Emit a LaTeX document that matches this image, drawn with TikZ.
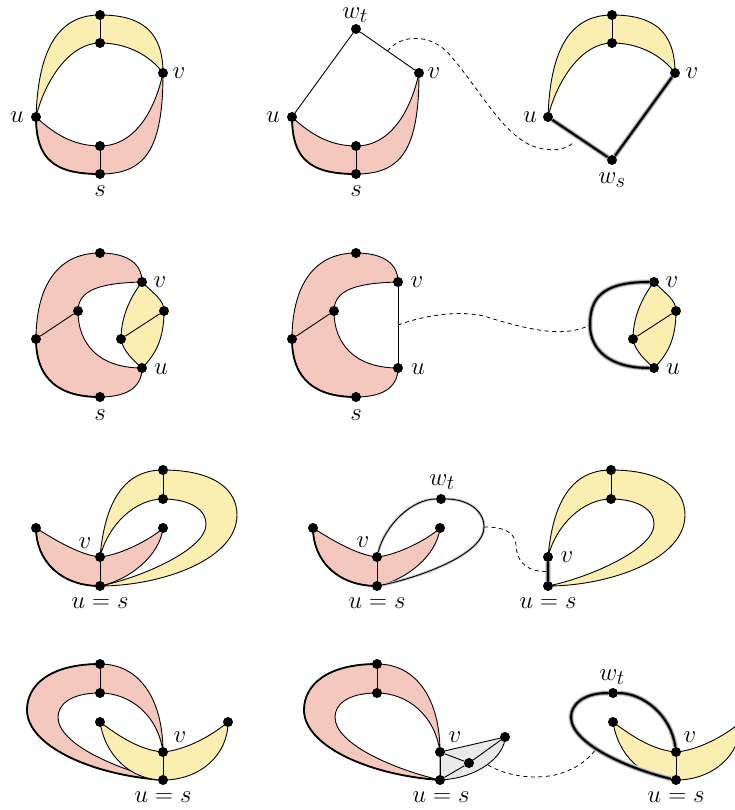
\documentclass[tikz,border=0pt]{standalone}
\usetikzlibrary{calc}
\definecolor{cRed}{RGB}{245,200,190}
\definecolor{cYel}{RGB}{250,238,176}
\definecolor{cGry}{RGB}{233,233,233}

% ----- shapes that come back in several panels (local coordinates) ------
\newcommand{\redcup}{%
  \filldraw[redfill] (36,117) .. controls (36,160) and (55,174) .. (100,174)
     .. controls (145,174) and (163,150) .. (163,73)
     .. controls (155,110) and (135,146) .. (100,146)
     .. controls (70,146) and (50,130) .. cycle;
  \draw[bold] (36,117) .. controls (36,160) and (55,174) .. (100,174);}
\newcommand{\yelcap}{%
  \filldraw[yelfill] (36,117) .. controls (38,55) and (55,15) .. (100,15)
     .. controls (140,15) and (163,30) .. (163,73)
     .. controls (152,58) and (130,43) .. (100,43)
     .. controls (70,43) and (45,80) .. cycle;}
\newcommand{\redC}{%
  \filldraw[redfill] (142,282) .. controls (142,262) and (125,253) .. (100,253)
     .. controls (55,253) and (36,290) .. (36,339)
     .. controls (36,380) and (60,397) .. (100,397)
     .. controls (130,397) and (142,385) .. (142,368)
     .. controls (100,368) and (78,345) .. (78,311)
     .. controls (78,290) and (100,283) .. cycle;
  \draw[bold] (36,339) .. controls (36,380) and (60,397) .. (100,397);}
\newcommand{\yellens}{%
  \filldraw[yelfill] (142,282) .. controls (155,295) and (164,300) .. (164,311)
     .. controls (164,340) and (155,355) .. (142,368)
     .. controls (135,362) and (122,350) .. (121,339)
     .. controls (121,320) and (128,300) .. cycle;}
\newcommand{\redV}{%
  \filldraw[redfill] (36,528) .. controls (55,540) and (80,555) .. (100,557)
     .. controls (120,555) and (150,540) .. (163,528)
     .. controls (160,555) and (130,580) .. (100,586)
     .. controls (60,586) and (36,560) .. cycle;
  \draw[bold] (36,528) .. controls (36,560) and (60,586) .. (100,586);}
\newcommand{\yelloop}{%
  \filldraw[yelfill] (100,557) .. controls (105,500) and (125,470) .. (163,470)
     .. controls (215,470) and (237,490) .. (237,515)
     .. controls (237,560) and (160,586) .. (100,586)
     .. controls (140,578) and (205,550) .. (206,525)
     .. controls (207,510) and (190,499) .. (163,499)
     .. controls (135,499) and (108,525) .. cycle;}
\newcommand{\redloop}{%
  \filldraw[redfill] (163,752) .. controls (163,700) and (140,664) .. (100,664)
     .. controls (50,664) and (27,685) .. (27,710)
     .. controls (27,745) and (90,775) .. (163,780)
     .. controls (120,770) and (58,745) .. (58,717)
     .. controls (58,705) and (70,693) .. (100,693)
     .. controls (130,693) and (158,715) .. cycle;
  \draw[bold] (100,664) .. controls (50,664) and (27,685) .. (27,710)
     .. controls (27,745) and (90,775) .. (163,780);}
\newcommand{\yelV}{%
  \filldraw[yelfill] (100,722) .. controls (120,737) and (140,750) .. (163,752)
     .. controls (185,750) and (210,737) .. (228,722)
     .. controls (228,755) and (200,780) .. (163,780)
     .. controls (130,780) and (105,755) .. cycle;}

\begin{document}
\begin{tikzpicture}[
  x=1pt, y=-1pt, font=\fontsize{24.88}{30}\selectfont,
  dot/.style     ={circle, fill=black, inner sep=0pt, minimum size=10pt},
  lbl/.style     ={inner sep=0pt},
  edge/.style    ={line width=0.9pt},
  bold/.style    ={line width=1.8pt},
  redfill/.style ={fill=cRed, draw=black, line width=0.9pt},
  yelfill/.style ={fill=cYel, draw=black, line width=0.9pt},
  gryfill/.style ={fill=cGry, draw=black, line width=0.9pt},
  halo/.style    ={line width=2pt, preaction={draw=black!15, line width=5.5pt},
                   preaction={draw=black!45, line width=3.6pt}},
  halothin/.style={line width=0.9pt, preaction={draw=black!22, line width=2.8pt}},
  link/.style    ={line width=0.8pt, dash pattern=on 4pt off 3.5pt},
]
\clip (0,0) rectangle (735,810);

% ======================= row 1 ==========================================
\begin{scope}
  \redcup \yelcap
  \node[dot] (p1t)  at (100,15)  {};
  \node[dot] (p1it) at (100,43)  {};
  \node[dot] (p1v)  at (163,73)  {};
  \node[dot] (p1u)  at (36,117)  {};
  \node[dot] (p1ib) at (100,146) {};
  \node[dot] (p1s)  at (100,174) {};
  \draw[edge] (p1t) -- (p1it);
  \draw[edge] (p1ib) -- (p1s);
  \node[lbl] (p1uL) at (17,117)  {$u$};
  \node[lbl] (p1vL) at (179,73)  {$v$};
  \node[lbl] (p1sL) at (100,191) {$s$};
\end{scope}

\begin{scope}[shift={(256,0)}]
  \redcup
  \node[dot] (p2w)  at (100,29)  {};
  \node[dot] (p2v)  at (163,73)  {};
  \node[dot] (p2u)  at (36,117)  {};
  \node[dot] (p2ib) at (100,146) {};
  \node[dot] (p2s)  at (100,174) {};
  \draw[edge] (p2u) -- (p2w) -- (p2v);
  \draw[edge] (p2ib) -- (p2s);
  \coordinate (p2m) at ($(p2w)!0.5!(p2v)$);
  \node[lbl] (p2wL) at (99,15.5) {$w_t$};
  \node[lbl] (p2uL) at (17,117)  {$u$};
  \node[lbl] (p2vL) at (178,73)  {$v$};
  \node[lbl] (p2sL) at (100,191) {$s$};
\end{scope}

\begin{scope}[shift={(512,0)}]
  \yelcap
  \node[dot] (p3t)  at (100,15)  {};
  \node[dot] (p3it) at (100,43)  {};
  \node[dot] (p3v)  at (163,73)  {};
  \node[dot] (p3u)  at (36,117)  {};
  \node[dot] (p3ws) at (100,160) {};
  \draw[edge] (p3t) -- (p3it);
  \draw[halo] (p3u) -- (p3ws) -- (p3v);
  \coordinate (p3m) at (61,143);
  \node[lbl] (p3uL)  at (18,117)  {$u$};
  \node[lbl] (p3vL)  at (180,73)  {$v$};
  \node[lbl] (p3wsL) at (100,180) {$w_s$};
\end{scope}

\draw[link] (p2m) .. controls (400,35) and (430,32) .. (450,55)
  .. controls (480,90) and (500,130) .. (530,145)
  .. controls (550,153) and (565,150) .. (p3m);

% ======================= row 2 ==========================================
\begin{scope}
  \redC \yellens
  \node[dot] (p4t)  at (100,253) {};
  \node[dot] (p4v)  at (142,282) {};
  \node[dot] (p4il) at (78,311)  {};
  \node[dot] (p4l)  at (36,339)  {};
  \node[dot] (p4u)  at (142,368) {};
  \node[dot] (p4b)  at (100,397) {};
  \node[dot] (p4yr) at (164,311) {};
  \node[dot] (p4yl) at (121,339) {};
  \draw[edge] (p4l) -- (p4il);
  \draw[edge] (p4yl) -- (p4yr);
  \node[lbl] (p4vL) at (160,282) {$v$};
  \node[lbl] (p4uL) at (161,369) {$u$};
  \node[lbl] (p4sL) at (100,415) {$s$};
\end{scope}

\begin{scope}[shift={(256,0)}]
  \redC
  \node[dot] (p5t)  at (100,253) {};
  \node[dot] (p5v)  at (142,282) {};
  \node[dot] (p5il) at (78,311)  {};
  \node[dot] (p5l)  at (36,339)  {};
  \node[dot] (p5u)  at (142,368) {};
  \node[dot] (p5b)  at (100,397) {};
  \draw[edge] (p5l) -- (p5il);
  \draw[edge] (p5v) -- (p5u);
  \coordinate (p5m) at ($(p5v)!0.5!(p5u)$);
  \node[lbl] (p5vL) at (161,282) {$v$};
  \node[lbl] (p5uL) at (162,369) {$u$};
  \node[lbl] (p5sL) at (100,415) {$s$};
\end{scope}

\begin{scope}[shift={(512,0)}]
  \yellens
  \node[dot] (p6v)  at (142,282) {};
  \node[dot] (p6u)  at (142,368) {};
  \node[dot] (p6yr) at (164,311) {};
  \node[dot] (p6yl) at (121,339) {};
  \draw[edge] (p6yl) -- (p6yr);
  \draw[halo] (p6v) .. controls (88,282) and (78,300) .. (78,325)
    .. controls (78,350) and (98,368) .. (p6u);
  \coordinate (p6m) at (78,325);
  \node[lbl] (p6vL) at (160,282) {$v$};
  \node[lbl] (p6uL) at (161,369) {$u$};
\end{scope}

\draw[link] (p5m) .. controls (430,313) and (470,310) .. (490,318)
  .. controls (530,330) and (565,338) .. (p6m);

% ======================= row 3 ==========================================
\begin{scope}
  \yelloop \redV
  \node[dot] (p7t)  at (163,470) {};
  \node[dot] (p7it) at (163,499) {};
  \node[dot] (p7l)  at (36,528)  {};
  \node[dot] (p7r)  at (163,528) {};
  \node[dot] (p7v)  at (100,557) {};
  \node[dot] (p7u)  at (100,586) {};
  \draw[edge] (p7t) -- (p7it);
  \draw[edge] (p7v) -- (p7u);
  \node[lbl] (p7vL) at (85,543)  {$v$};
  \node[lbl] (p7uL) at (100,603) {$u=s$};
\end{scope}

\begin{scope}[shift={(277,0)}]
  \redV
  \node[dot] (p8w) at (164,499) {};
  \node[dot] (p8l) at (36,528)  {};
  \node[dot] (p8r) at (163,528) {};
  \node[dot] (p8v) at (100,557) {};
  \node[dot] (p8u) at (100,586) {};
  \draw[edge] (p8v) -- (p8u);
  \draw[halothin] (p8v) .. controls (108,525) and (135,499) .. (p8w)
    .. controls (190,499) and (207,510) .. (207,527)
    .. controls (207,555) and (140,578) .. (p8u);
  \coordinate (p8m) at (207,527);
  \node[lbl] (p8wL) at (165,482) {$w_t$};
  \node[lbl] (p8vL) at (86,542)  {$v$};
  \node[lbl] (p8uL) at (100,603) {$u=s$};
\end{scope}

\begin{scope}[shift={(448,0)}]
  \yelloop
  \node[dot] (p9t)  at (163,470) {};
  \node[dot] (p9it) at (163,499) {};
  \node[dot] (p9v)  at (100,557) {};
  \node[dot] (p9u)  at (100,586) {};
  \draw[edge] (p9t) -- (p9it);
  \draw[halo] (p9v) -- (p9u);
  \coordinate (p9m) at ($(p9v)!0.5!(p9u)$);
  \node[lbl] (p9vL) at (119,557) {$v$};
  \node[lbl] (p9uL) at (100,603) {$u=s$};
\end{scope}

\draw[link] (p8m) .. controls (500,527) and (515,530) .. (516,545)
  .. controls (517,565) and (530,572) .. (p9m);

% ======================= row 4 ==========================================
\begin{scope}
  \redloop \yelV
  \node[dot] (p10t)  at (100,664) {};
  \node[dot] (p10it) at (100,693) {};
  \node[dot] (p10yl) at (100,722) {};
  \node[dot] (p10yr) at (228,722) {};
  \node[dot] (p10v)  at (163,752) {};
  \node[dot] (p10u)  at (163,780) {};
  \draw[edge] (p10t) -- (p10it);
  \draw[edge] (p10v) -- (p10u);
  \node[lbl] (p10vL) at (180,737) {$v$};
  \node[lbl] (p10uL) at (163,797) {$u=s$};
\end{scope}

\begin{scope}[shift={(277,0)}]
  \redloop
  \filldraw[gryfill] (163,752) -- (228,737)
    .. controls (228,755) and (203,778) .. (163,780) -- cycle;
  \node[dot] (p11t)  at (100,664) {};
  \node[dot] (p11it) at (100,693) {};
  \node[dot] (p11v)  at (163,752) {};
  \node[dot] (p11u)  at (163,780) {};
  \node[dot] (p11g)  at (192,763) {};
  \node[dot] (p11r)  at (228,737) {};
  \draw[edge] (p11t) -- (p11it);
  \draw[edge] (p11v) -- (p11u);
  \draw[edge] (p11v) -- (p11g) -- (p11u);
  \draw[edge] (p11g) -- (p11r);
  \coordinate (p11m) at (211,765);
  \node[lbl] (p11vL) at (178,737) {$v$};
  \node[lbl] (p11uL) at (164,797) {$u=s$};
\end{scope}

\begin{scope}[shift={(513,0)}]
  \yelV
  \node[dot] (p12w)  at (100,693) {};
  \node[dot] (p12yl) at (100,722) {};
  \node[dot] (p12yr) at (228,722) {};
  \node[dot] (p12v)  at (163,752) {};
  \node[dot] (p12u)  at (163,780) {};
  \draw[edge] (p12v) -- (p12u);
  \draw[halo] (p12v) .. controls (158,715) and (130,693) .. (p12w)
    .. controls (70,693) and (58,705) .. (58,717)
    .. controls (58,745) and (120,770) .. (p12u);
  \coordinate (p12m) at (83,749);
  \node[lbl] (p12wL) at (99,677)  {$w_t$};
  \node[lbl] (p12vL) at (177,737) {$v$};
  \node[lbl] (p12uL) at (163,797) {$u=s$};
\end{scope}

\draw[link] (p11m) .. controls (505,775) and (530,780) .. (555,775)
  .. controls (575,770) and (588,760) .. (p12m);

\end{tikzpicture}
\end{document}
